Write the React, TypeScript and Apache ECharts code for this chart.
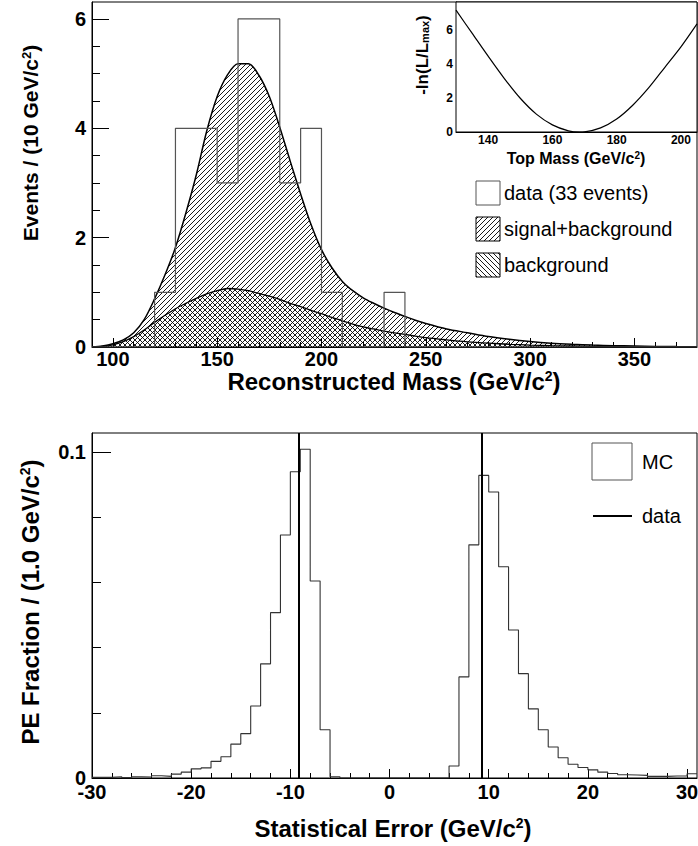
import { useEffect, useRef } from 'react';
import * as echarts from 'echarts';

// ---------- top panel : reconstructed mass ----------
const massBinEdges = [90, 100, 110, 120, 130, 140, 150, 160, 170, 180, 190, 200, 210, 220, 230, 240, 250, 260, 270, 280, 290, 300, 310, 320, 330, 340, 350, 360, 370, 380];
const dataCounts = [0, 0, 0, 1, 4, 4, 3, 6, 6, 3, 4, 1, 0, 0, 1, 0, 0, 0, 0, 0, 0, 0, 0, 0, 0, 0, 0, 0, 0];
const curveMass = [90, 95, 100, 105, 110, 115, 120, 125, 130, 135, 140, 145, 150, 155, 160, 165, 170, 175, 180, 185, 190, 195, 200, 205, 210, 215, 220, 225, 230, 235, 240, 245, 250, 260, 270, 280, 290, 300, 310, 320, 330, 340, 350, 360, 370, 380];
const sigPlusBkg = [0.0, 0.02, 0.06, 0.13, 0.26, 0.5, 0.88, 1.32, 1.82, 2.45, 3.15, 3.95, 4.58, 4.98, 5.18, 5.18, 4.97, 4.58, 4.02, 3.4, 2.8, 2.24, 1.78, 1.45, 1.2, 1.03, 0.9, 0.8, 0.71, 0.63, 0.56, 0.49, 0.43, 0.33, 0.26, 0.19, 0.14, 0.1, 0.07, 0.05, 0.035, 0.025, 0.017, 0.011, 0.007, 0.005];
const bkgOnly = [0.0, 0.01, 0.04, 0.1, 0.19, 0.31, 0.45, 0.58, 0.7, 0.8, 0.89, 0.97, 1.03, 1.07, 1.06, 1.03, 0.98, 0.93, 0.87, 0.8, 0.74, 0.67, 0.61, 0.54, 0.48, 0.42, 0.37, 0.33, 0.29, 0.26, 0.23, 0.2, 0.17, 0.13, 0.095, 0.07, 0.05, 0.035, 0.025, 0.018, 0.012, 0.008, 0.005, 0.003, 0.002, 0.001];
const massMajorTicks = [100, 150, 200, 250, 300, 350];
const massMinorTicks = [110, 120, 130, 140, 160, 170, 180, 190, 210, 220, 230, 240, 260, 270, 280, 290, 310, 320, 330, 340, 360, 370];
const eventsMajorTicks = [0, 2, 4, 6];
const eventsMinorTicks = [0.5, 1, 1.5, 2.5, 3, 3.5, 4.5, 5, 5.5];

// ---------- inset : -ln(L/Lmax) ----------
const topMass = [130, 135, 140, 145, 150, 155, 160, 165, 168.5, 170, 175, 180, 185, 190, 195, 200, 205];
const negLogL = [7.15, 5.8, 4.45, 3.15, 1.98, 1.05, 0.42, 0.07, 0, 0.01, 0.24, 0.76, 1.57, 2.6, 3.8, 5.0, 6.35];
const topMassMajorTicks = [140, 160, 180, 200];
const topMassMinorTicks = [135, 145, 150, 155, 165, 170, 175, 185, 190, 195];
const lnLMajorTicks = [0, 2, 4, 6];
const lnLMinorTicks = [0.5, 1, 1.5, 2.5, 3, 3.5, 4.5, 5, 5.5, 6.5, 7, 7.5];

// ---------- bottom panel : statistical error ----------
const peBinEdges = [-30, -29, -28, -27, -26, -25, -24, -23, -22, -21, -20, -19, -18, -17, -16, -15, -14, -13, -12, -11, -10, -9, -8, -7, -6, -5, -4, -3, -2, -1, 0, 1, 2, 3, 4, 5, 6, 7, 8, 9, 10, 11, 12, 13, 14, 15, 16, 17, 18, 19, 20, 21, 22, 23, 24, 25, 26, 27, 28, 29, 30, 31];
const mcFraction = [
  0.0002, 0.0002, 0.0004, 0.0001, 0.0004, 0.0003, 0.0007, 0.0005, 0.0012, 0.0018,
  0.0028, 0.0031, 0.0051, 0.0065, 0.0104, 0.0136, 0.0221, 0.035, 0.0507, 0.0745,
  0.0939, 0.1008, 0.0604, 0.0148, 0.0004,
  0, 0, 0, 0, 0, 0, 0, 0, 0, 0, 0,
  0.0037, 0.031, 0.0715, 0.0928, 0.0877, 0.0648, 0.0454, 0.032, 0.0212, 0.0148,
  0.0095, 0.0062, 0.0042, 0.0032, 0.0025, 0.0018, 0.0014, 0.001, 0.0009, 0.0008,
  0.0005, 0.0005, 0.0006, 0.0006, 0.0013,
];
const dataStatErrors = [-9.2, 9.3];
const errMajorTicks = [-30, -20, -10, 0, 10, 20, 30];
const errMinorTicks = [-28, -26, -24, -22, -18, -16, -14, -12, -8, -6, -4, -2, 2, 4, 6, 8, 12, 14, 16, 18, 22, 24, 26, 28];
const fracMajorTicks = [0, 0.1];
const fracMinorTicks = [0.02, 0.04, 0.06, 0.08];

const FONT = '"Liberation Sans", Arial, Helvetica, sans-serif';

function hatchCanvas(dir: number, size: number) {
  const c = document.createElement('canvas');
  c.width = size;
  c.height = size;
  const ctx = c.getContext('2d') as CanvasRenderingContext2D;
  ctx.strokeStyle = '#000';
  ctx.lineWidth = 0.9;
  ctx.beginPath();
  if (dir > 0) {
    ctx.moveTo(0, size); ctx.lineTo(size, 0);
    ctx.moveTo(-1, 1); ctx.lineTo(1, -1);
    ctx.moveTo(size - 1, size + 1); ctx.lineTo(size + 1, size - 1);
  } else {
    ctx.moveTo(0, 0); ctx.lineTo(size, size);
    ctx.moveTo(size - 1, -1); ctx.lineTo(size + 1, 1);
    ctx.moveTo(-1, size - 1); ctx.lineTo(1, size + 1);
  }
  ctx.stroke();
  return c;
}

function stepPoints(edges: number[], vals: number[]) {
  return edges.map((e, i) => [e, vals[Math.min(i, vals.length - 1)]]);
}

function xAx(grid: number, min: number, max: number, ticks: number[], len: number, opts: any) {
  return {
    type: 'value', gridIndex: grid, min, max, position: 'bottom',
    axisLine: { show: !!opts.line, onZero: false, lineStyle: { color: '#000', width: 1 } },
    axisTick: { show: true, inside: true, length: len, customValues: ticks, lineStyle: { color: '#000', width: 1 } },
    axisLabel: opts.label
      ? { show: true, customValues: ticks, margin: opts.margin, fontSize: opts.fontSize, fontWeight: 'bold', fontFamily: FONT, color: '#000' }
      : { show: false },
    splitLine: { show: false },
  };
}
function yAx(grid: number, min: number, max: number, ticks: number[], len: number, opts: any) {
  return {
    type: 'value', gridIndex: grid, min, max, position: 'left',
    axisLine: { show: !!opts.line, onZero: false, lineStyle: { color: '#000', width: 1 } },
    axisTick: { show: true, inside: true, length: len, customValues: ticks, lineStyle: { color: '#000', width: 1 } },
    axisLabel: opts.label
      ? { show: true, customValues: ticks, margin: opts.margin, fontSize: opts.fontSize, fontWeight: 'bold', fontFamily: FONT, color: '#000' }
      : { show: false },
    splitLine: { show: false },
  };
}

function title(text: string, x: number, y: number, size: number, rotate: boolean) {
  return {
    type: 'text', x, y, rotation: rotate ? Math.PI / 2 : 0, z: 100,
    style: {
      text, fontSize: size, fontWeight: 'bold', fontFamily: FONT, fill: '#000',
      align: 'center', verticalAlign: 'middle', textAlign: 'center', textVerticalAlign: 'middle',
      rich: {
        s: { fontSize: Math.round(size * 0.6), fontWeight: 'bold', fontFamily: FONT, fill: '#000', verticalAlign: 'top' },
        sub: { fontSize: Math.round(size * 0.62), fontWeight: 'bold', fontFamily: FONT, fill: '#000', verticalAlign: 'bottom' },
      },
    },
  };
}
function legendText(text: string, x: number, y: number, size: number) {
  return {
    type: 'text', x, y, z: 100,
    style: { text, fontSize: size, fontFamily: FONT, fill: '#000', align: 'left', verticalAlign: 'middle', textAlign: 'left', textVerticalAlign: 'middle' },
  };
}

export default function App() {
  const ref = useRef<HTMLDivElement>(null);
  useEffect(() => {
    document.body.style.margin = '0';
    const chart = echarts.init(ref.current as HTMLDivElement, null, { renderer: 'svg' });
    const slash = { image: hatchCanvas(1, 5), repeat: 'repeat' };
    const backslash = { image: hatchCanvas(-1, 5), repeat: 'repeat' };

    const option: any = {
      animation: false,
      grid: [
        { left: 92, top: 2, width: 605, height: 345, show: true, borderColor: '#000', borderWidth: 1, backgroundColor: 'transparent', containLabel: false, outerBoundsMode: 'none' },
        { left: 456, top: 2, width: 241, height: 130, show: true, borderColor: '#000', borderWidth: 1, backgroundColor: '#fff', containLabel: false, outerBoundsMode: 'none', z: 5 },
        { left: 92, top: 433, width: 605, height: 345, show: true, borderColor: '#000', borderWidth: 1, backgroundColor: 'transparent', containLabel: false, outerBoundsMode: 'none' },
      ],
      xAxis: [
        xAx(0, 90, 380, massMajorTicks, 9, { line: true, label: true, margin: 2, fontSize: 20 }),
        xAx(0, 90, 380, massMinorTicks, 5, {}),
        xAx(1, 130, 205, topMassMajorTicks, 5, { line: true, label: true, margin: 2, fontSize: 12 }),
        xAx(1, 130, 205, topMassMinorTicks, 3, {}),
        xAx(2, -30, 31, errMajorTicks, 9, { line: true, label: true, margin: 4, fontSize: 20 }),
        xAx(2, -30, 31, errMinorTicks, 5, {}),
      ],
      yAxis: [
        yAx(0, 0, 6.31, eventsMajorTicks, 17, { line: true, label: true, margin: 6, fontSize: 20 }),
        yAx(0, 0, 6.31, eventsMinorTicks, 8, {}),
        yAx(1, 0, 7.63, lnLMajorTicks, 6, { line: true, label: true, margin: 3, fontSize: 12 }),
        yAx(1, 0, 7.63, lnLMinorTicks, 3, {}),
        yAx(2, 0, 0.1058, fracMajorTicks, 19, { line: true, label: true, margin: 6, fontSize: 20 }),
        yAx(2, 0, 0.1058, fracMinorTicks, 9, {}),
      ],
      series: [
        {
          type: 'line', name: 'signal+background', xAxisIndex: 0, yAxisIndex: 0,
          data: curveMass.map((m, i) => [m, sigPlusBkg[i]]),
          smooth: 0.3, symbol: 'none', z: 2,
          lineStyle: { color: '#000', width: 1.5 },
          areaStyle: { color: slash, opacity: 1 },
        },
        {
          type: 'line', name: 'background', xAxisIndex: 0, yAxisIndex: 0,
          data: curveMass.map((m, i) => [m, bkgOnly[i]]),
          smooth: 0.3, symbol: 'none', z: 3,
          lineStyle: { color: '#000', width: 1.3 },
          areaStyle: { color: backslash, opacity: 1 },
        },
        {
          type: 'line', name: 'data', xAxisIndex: 0, yAxisIndex: 0,
          data: stepPoints(massBinEdges, dataCounts), step: 'end', symbol: 'none', z: 4,
          lineStyle: { color: '#555', width: 1.2 },
        },
        {
          type: 'line', name: 'likelihood', xAxisIndex: 2, yAxisIndex: 2,
          data: topMass.map((m, i) => [m, negLogL[i]]),
          smooth: 0.3, symbol: 'none', z: 6,
          lineStyle: { color: '#000', width: 1.2 },
        },
        {
          type: 'line', name: 'MC', xAxisIndex: 4, yAxisIndex: 4,
          data: stepPoints(peBinEdges, mcFraction), step: 'end', symbol: 'none', z: 4,
          lineStyle: { color: '#333', width: 1.1 },
          markLine: {
            silent: true, symbol: ['none', 'none'], label: { show: false },
            lineStyle: { color: '#000', width: 2, type: 'solid' },
            data: dataStatErrors.map((v) => ({ xAxis: v })),
          },
        },
      ],
      graphic: {
        elements: [
          title('Reconstructed Mass (GeV/c{s|2})', 394, 381, 24, false),
          title('Events / (10 GeV/c{s|2})', 30, 143, 21, true),
          title('Statistical Error (GeV/c{s|2})', 393, 828, 24, false),
          title('PE Fraction / (1.0 GeV/c{s|2})', 30, 602, 24, true),
          title('Top Mass (GeV/c{s|2})', 576, 158, 16, false),
          title('-ln(L/L{sub|max})', 422, 55, 17, true),
          { type: 'rect', z: 100, shape: { x: 476, y: 181, width: 24, height: 24 }, style: { fill: '#fff', stroke: '#555', lineWidth: 1 } },
          { type: 'rect', z: 100, shape: { x: 476, y: 217, width: 24, height: 24 }, style: { fill: slash, stroke: '#000', lineWidth: 1 } },
          { type: 'rect', z: 100, shape: { x: 476, y: 253, width: 24, height: 24 }, style: { fill: backslash, stroke: '#000', lineWidth: 1 } },
          legendText('data (33 events)', 504, 193, 20),
          legendText('signal+background', 504, 229, 20),
          legendText('background', 504, 265, 20),
          { type: 'rect', z: 100, shape: { x: 592, y: 443, width: 40, height: 37 }, style: { fill: '#fff', stroke: '#555', lineWidth: 1 } },
          legendText('MC', 642, 462, 20),
          { type: 'line', z: 100, shape: { x1: 593, y1: 516, x2: 632, y2: 516 }, style: { stroke: '#000', lineWidth: 2 } },
          legendText('data', 642, 516, 20),
        ],
      },
    };
    chart.setOption(option);
    return () => chart.dispose();
  }, []);
  return <div ref={ref} style={{ width: 698, height: 846 }} />;
}
